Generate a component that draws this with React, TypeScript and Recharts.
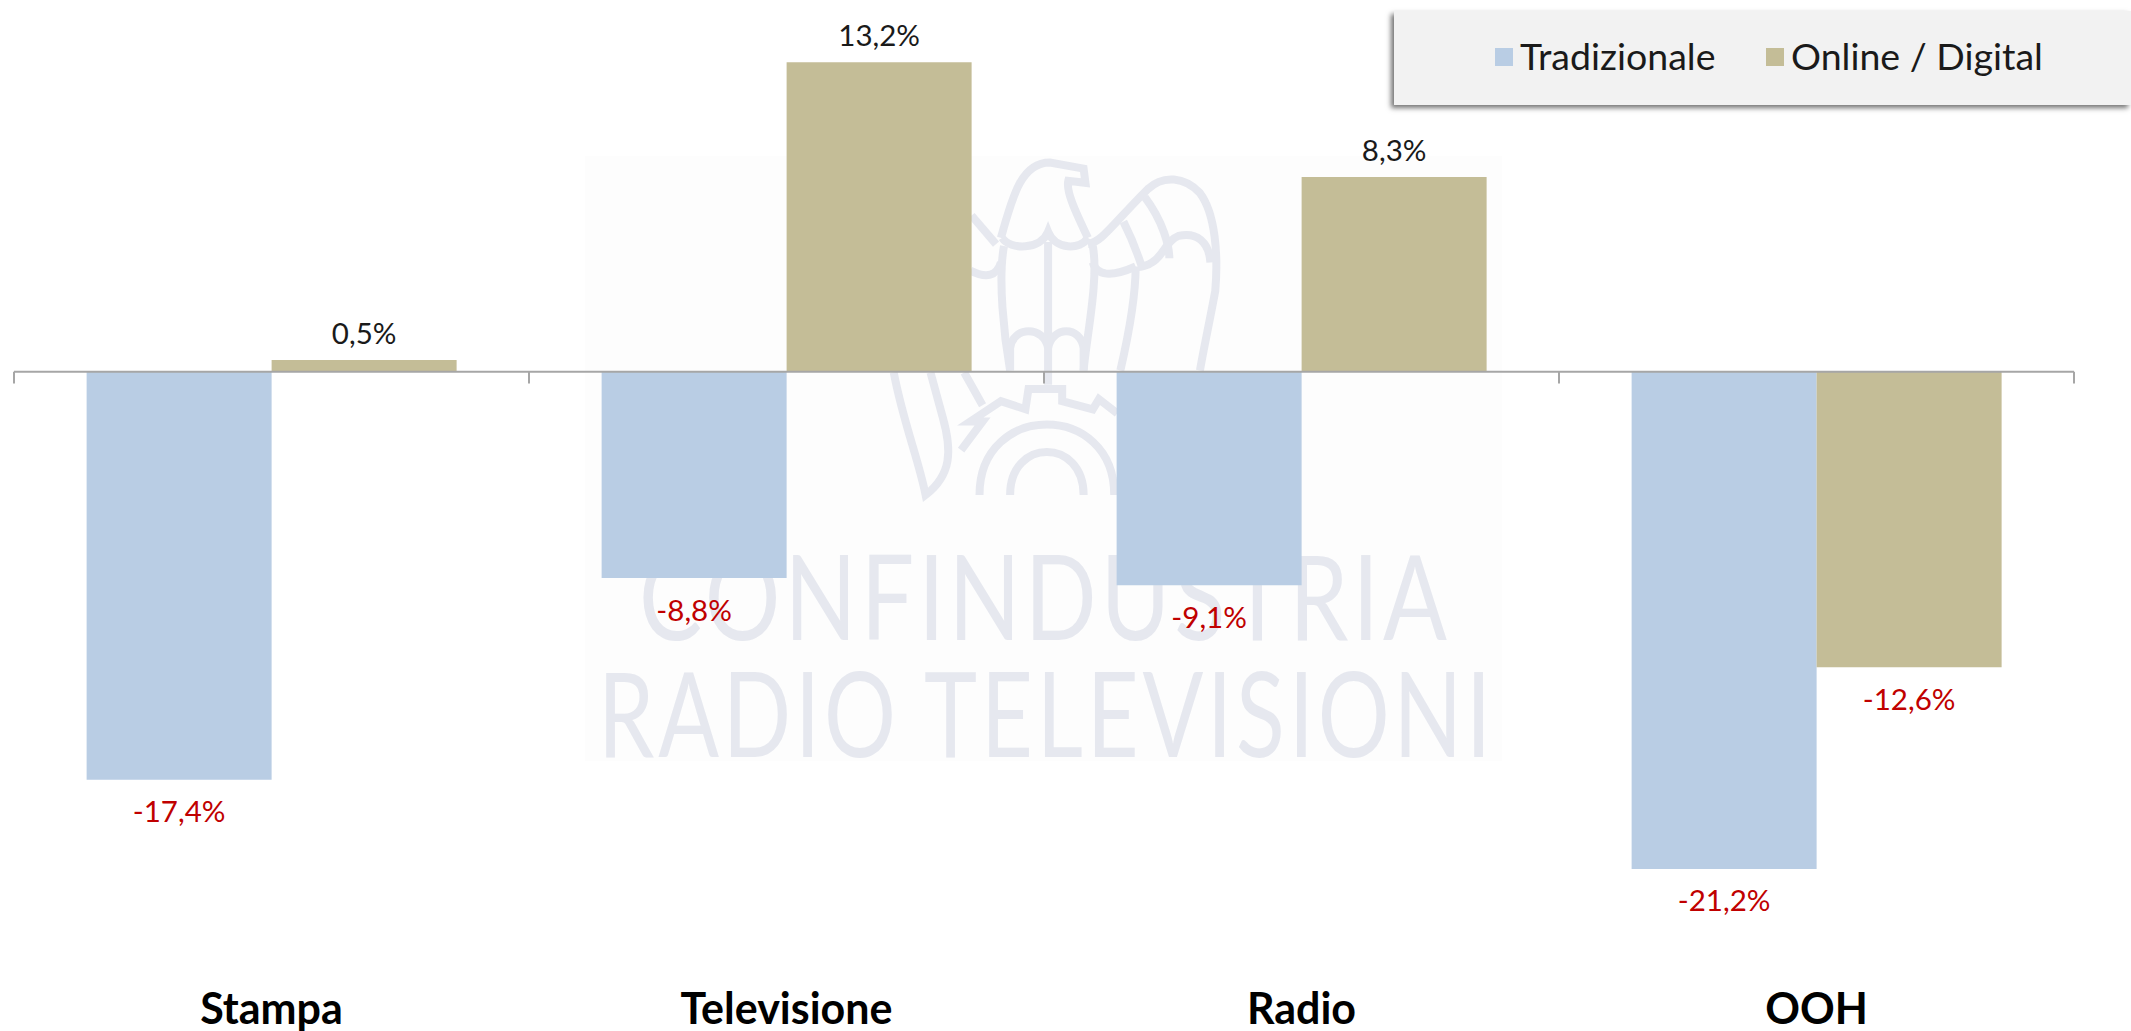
import { BarChart, Bar, XAxis, YAxis, ReferenceLine, LabelList, Legend } from 'recharts';

const categories = ['Stampa', 'Televisione', 'Radio', 'OOH'];
const tradizionale = [-17.4, -8.8, -9.1, -21.2];
const online = [0.5, 13.2, 8.3, -12.6];
const boundaries = [0, 1, 2, 3, 4];

const data = categories.map((name, i) => ({ name, slot: i, tradizionale: tradizionale[i], online: online[i] }));

const FONT = 'Lato, sans-serif';
const MARK = '#e6e8ef';

// formats the value Italian style, black above zero and red below
const renderValue = (props: any) => {
  const { x, y, width, height, value } = props;
  const top = Math.min(y, y + height);
  const bottom = Math.max(y, y + height);
  const negative = value < 0;
  return (
    <text
      x={x + width / 2}
      y={negative ? bottom + 31 : top - 28}
      textAnchor="middle"
      dominantBaseline="central"
      fontFamily={FONT}
      fontSize={29.5}
      fill={negative ? '#c00000' : '#1a1a1a'}
    >
      {`${String(value).replace('.', ',')}%`}
    </text>
  );
};

const renderLegend = (props: any) => (
  <div style={{ position: 'relative', width: '100%', height: '100%' }}>
    {props.payload.map((entry: any, i: number) => (
      <div key={entry.value} style={{ position: 'absolute', left: i === 0 ? 101 : 372, top: -3, height: 94, display: 'flex', alignItems: 'center' }}>
        <span style={{ display: 'inline-block', width: 18, height: 18, background: entry.color, marginRight: 7, marginTop: 3 }} />
        <span style={{ fontFamily: FONT, fontSize: 37.5, color: '#1a1a1a', whiteSpace: 'nowrap' }}>{entry.value}</span>
      </div>
    ))}
  </div>
);

// faint logo behind the chart
function Watermark() {
  const eagle = [
    'M720,240 C740,130 755,55 800,55 L855,70 L858,105 L830,100 C825,130 850,200 862,240',
    'M672,185 L712,255',
    'M722,240 C735,270 785,270 797,225 C809,270 850,270 862,240',
    'M862,255 C885,250 900,210 960,120 C985,85 1020,90 1045,130 C1070,180 1075,280 1070,370 C1060,450 1050,520 1045,565',
    'M920,200 C940,260 945,290 950,310 C985,300 985,250 1010,235 C1040,225 1060,250 1062,300',
    'M955,140 C985,200 995,260 995,290',
    'M725,260 C715,340 725,480 735,565',
    'M797,250 L797,600',
    'M735,565 L735,510 C740,455 790,455 797,510 C804,455 850,455 855,510 L855,565',
    'M670,320 Q710,350 720,300 M870,300 Q880,350 940,310',
    'M870,260 C880,340 860,480 855,565 M940,310 C940,400 925,500 915,565',
    'M545,570 C560,690 585,780 597,870 C640,820 640,760 625,680 L605,570',
    'M660,570 L690,650 M655,760 L690,690 L670,690 L720,640 L760,660 L765,610 L820,610 L820,640 L870,660 L880,635 L910,670',
    'M685,870 C685,640 905,640 905,870',
    'M735,870 C735,730 855,730 855,870',
  ];
  return (
    <svg width={2131} height={1031} style={{ position: 'absolute', left: 0, top: 0 }}>
      <rect x={585} y={156} width={917} height={605} fill="#fdfdfd" />
      <g transform="translate(560 140) scale(0.6124 0.408)" fill="none" stroke={MARK}>
        {eagle.map((d) => (
          <path key={d} d={d} strokeWidth={8} vectorEffect="non-scaling-stroke" />
        ))}
      </g>
      <text x={639} y={640} textLength={812} lengthAdjust="spacingAndGlyphs" fontFamily={FONT} fontSize={118} letterSpacing={5} fill={MARK}>
        CONFINDUSTRIA
      </text>
      <text x={598} y={757} textLength={897} lengthAdjust="spacingAndGlyphs" fontFamily={FONT} fontSize={118} letterSpacing={5} fill={MARK}>
        RADIO TELEVISIONI
      </text>
    </svg>
  );
}

export default function App() {
  return (
    <div style={{ position: 'absolute', left: 0, top: 0, width: 2131, height: 1031, background: '#fff', overflow: 'hidden' }}>
      <Watermark />
      <div style={{ position: 'absolute', left: 0, top: 0 }}>
        <BarChart
          width={2131}
          height={1031}
          data={data}
          margin={{ top: 20, right: 57, bottom: 0, left: 14 }}
          barCategoryGap="14.1%"
          barGap={0}
        >
          <XAxis
            dataKey="name"
            axisLine={false}
            tickLine={false}
            height={73}
            interval={0}
            tickMargin={29}
            tick={{ fontFamily: FONT, fontSize: 43, fontWeight: 700, fill: '#000' }}
          />
          <XAxis xAxisId="boundary" dataKey="slot" type="number" domain={[0, 4]} allowDataOverflow hide />
          <YAxis hide domain={[-25, 15]} />
          <Legend
            layout="horizontal"
            verticalAlign="middle"
            align="center"
            itemSorter={null}
            content={renderLegend}
            wrapperStyle={{
              left: 1394,
              top: 11,
              width: 737,
              height: 94,
              background: '#f2f2f2',
              boxShadow: '-3px 3px 5px rgba(0,0,0,0.55)',
            }}
          />
          <Bar dataKey="tradizionale" name="Tradizionale" fill="#b9cde4" isAnimationActive={false}>
            <LabelList dataKey="tradizionale" content={renderValue} />
          </Bar>
          <Bar dataKey="online" name="Online / Digital" fill="#c4bd97" isAnimationActive={false}>
            <LabelList dataKey="online" content={renderValue} />
          </Bar>
          <ReferenceLine y={0} stroke="#a6a6a6" strokeWidth={2} />
          {boundaries.map((b) => (
            <ReferenceLine
              key={b}
              xAxisId="boundary"
              segment={[{ x: b, y: 0 }, { x: b, y: -0.5 }]}
              stroke="#a6a6a6"
              strokeWidth={2}
            />
          ))}
        </BarChart>
      </div>
    </div>
  );
}
